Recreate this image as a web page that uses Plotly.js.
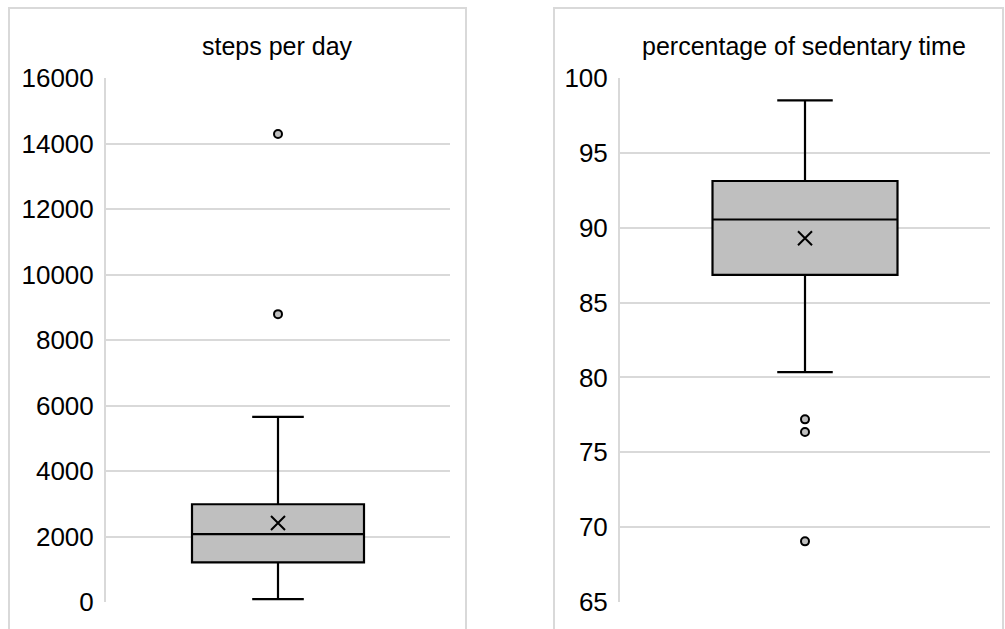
<!DOCTYPE html>
<html>
<head>
<meta charset="utf-8">
<script src="https://cdn.plot.ly/plotly-3.0.1.min.js"></script>
<style>html,body{margin:0;padding:0;background:#fff;}#chart{width:1005px;height:629px;}</style>
</head>
<body>
<div id="chart"></div>
<script>
// Panel titles
const titles = ["steps per day", "percentage of sedentary time"];

// Steps per day box statistics
const stepsStats = {q1: 1210, median: 2070, q3: 2985, lower: 90, upper: 5650, mean: 2410};
const stepsOutliers = [14290, 8790];
const stepsTicks = [0, 2000, 4000, 6000, 8000, 10000, 12000, 14000, 16000];

// Sedentary time box statistics
const sedStats = {q1: 86.85, median: 90.55, q3: 93.12, lower: 80.35, upper: 98.5, mean: 89.3};
const sedOutliers = [77.2, 76.35, 69.05];
const sedTicks = [65, 70, 75, 80, 85, 90, 95, 100];

const W = 1005, H = 629;
const px = v => v / W;
const py = v => 1 - v / H;

function boxTrace(s, xa, ya) {
  return {
    type: 'box', x: [0], q1: [s.q1], median: [s.median], q3: [s.q3],
    lowerfence: [s.lower], upperfence: [s.upper],
    width: 0.5, whiskerwidth: 0.3,
    fillcolor: '#bfbfbf', line: {color: '#000', width: 2.2},
    boxpoints: false, xaxis: xa, yaxis: ya, hoverinfo: 'skip', showlegend: false
  };
}
function outlierTrace(vals, xa, ya) {
  return {
    type: 'scatter', mode: 'markers', x: vals.map(() => 0), y: vals,
    marker: {symbol: 'circle', size: 8, color: '#bfbfbf', line: {color: '#000', width: 2}},
    xaxis: xa, yaxis: ya, hoverinfo: 'skip', showlegend: false
  };
}
function meanTrace(m, xa, ya) {
  return {
    type: 'scatter', mode: 'markers', x: [0], y: [m],
    marker: {symbol: 'x-thin-open', size: 14, color: '#000', line: {color: '#000', width: 2}},
    xaxis: xa, yaxis: ya, hoverinfo: 'skip', showlegend: false
  };
}

const data = [
  boxTrace(stepsStats, 'x', 'y'),
  outlierTrace(stepsOutliers, 'x', 'y'),
  meanTrace(stepsStats.mean, 'x', 'y'),
  boxTrace(sedStats, 'x2', 'y2'),
  outlierTrace(sedOutliers, 'x2', 'y2'),
  meanTrace(sedStats.mean, 'x2', 'y2')
];

const font = {family: 'Liberation Sans, Arial, sans-serif', size: 25, color: '#000'};
const tickFont = {family: 'Liberation Sans, Arial, sans-serif', size: 26, color: '#000'};
const yaxisBase = {
  showgrid: true, gridcolor: '#d9d9d9', gridwidth: 2,
  zeroline: false, showline: true, linecolor: '#d9d9d9', linewidth: 2,
  ticks: '', ticklabelstandoff: 5, tickfont: tickFont, fixedrange: true
};
const xaxisBase = {range: [-0.5, 0.5], showgrid: false, zeroline: false, showline: false,
  showticklabels: false, ticks: '', fixedrange: true};

const layout = {
  width: W, height: H,
  margin: {l: 0, r: 0, t: 0, b: 0},
  paper_bgcolor: '#fff', plot_bgcolor: 'rgba(0,0,0,0)',
  font: font,
  showlegend: false,
  xaxis: Object.assign({}, xaxisBase, {domain: [px(106), px(450)], anchor: 'y'}),
  yaxis: Object.assign({}, yaxisBase, {domain: [py(602), py(78)], range: [0, 16000],
    tickvals: stepsTicks, ticktext: stepsTicks.map(String), anchor: 'x'}),
  xaxis2: Object.assign({}, xaxisBase, {domain: [px(620), px(990)], anchor: 'y2'}),
  yaxis2: Object.assign({}, yaxisBase, {domain: [py(602), py(78)], range: [65, 100],
    tickvals: sedTicks, ticktext: sedTicks.map(String), anchor: 'x2'}),
  shapes: [
    {type: 'rect', xref: 'paper', yref: 'paper', x0: px(9), x1: px(466), y0: py(660), y1: py(8),
     line: {color: '#d9d9d9', width: 2}, fillcolor: 'rgba(0,0,0,0)', layer: 'below'},
    {type: 'rect', xref: 'paper', yref: 'paper', x0: px(554), x1: px(1003), y0: py(660), y1: py(8),
     line: {color: '#d9d9d9', width: 2}, fillcolor: 'rgba(0,0,0,0)', layer: 'below'}
  ],
  annotations: [
    {text: titles[0], xref: 'paper', yref: 'paper', x: px(277), y: py(46),
     xanchor: 'center', yanchor: 'middle', showarrow: false, font: font},
    {text: titles[1], xref: 'paper', yref: 'paper', x: px(804), y: py(46),
     xanchor: 'center', yanchor: 'middle', showarrow: false, font: font}
  ]
};

Plotly.newPlot('chart', data, layout, {displayModeBar: false, staticPlot: true});
</script>
</body>
</html>
